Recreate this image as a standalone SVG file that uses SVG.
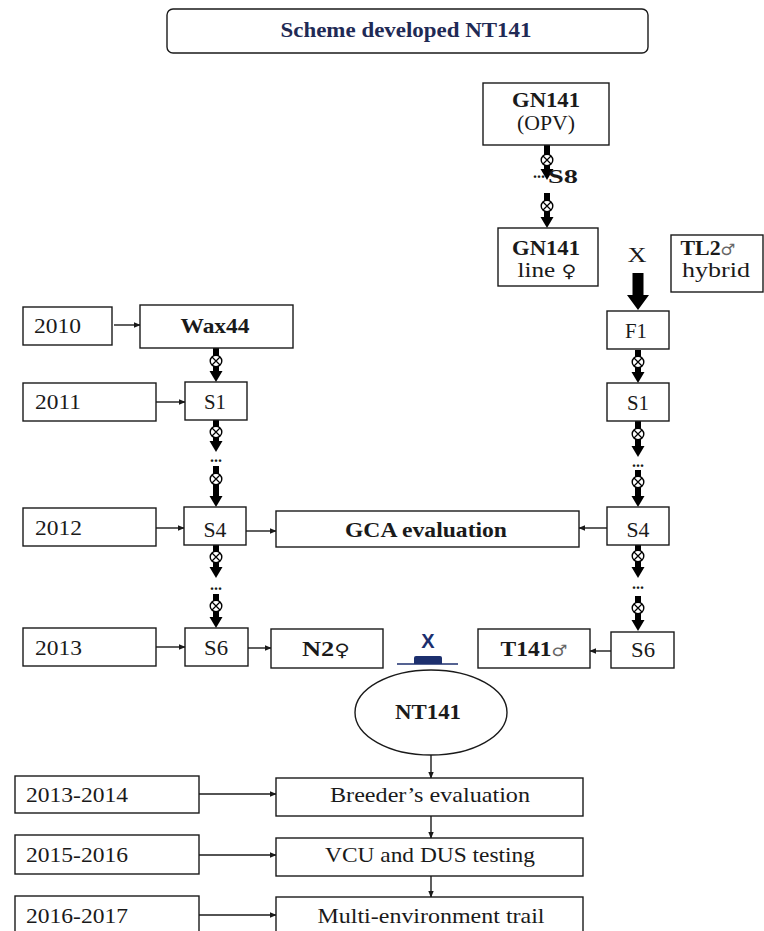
<svg xmlns="http://www.w3.org/2000/svg" xmlns:xlink="http://www.w3.org/1999/xlink" width="764" height="931" viewBox="0 0 764 931">
<style>
  .box{fill:#fff;stroke:#1a1a1a;stroke-width:1.4}
  .t{font-family:"Liberation Serif","DejaVu Serif",serif;font-size:21px;fill:#1a1a1a}
  .b{font-weight:bold}
  .c{text-anchor:middle}
  .thin{stroke:#1a1a1a;stroke-width:1.4;fill:none}
  .shaft{stroke:#000;stroke-width:6;fill:none}
  .sym{font-family:"DejaVu Sans",sans-serif;font-weight:normal}
</style>
<defs>
  <marker id="ah" viewBox="0 0 10 10" refX="9" refY="5" markerWidth="7" markerHeight="7" markerUnits="userSpaceOnUse" orient="auto">
    <path d="M0,1 L10,5 L0,9 Z" fill="#1a1a1a"/>
  </marker>
  <g id="ox">
    <circle cx="0" cy="0" r="5.8" fill="#fff" stroke="#000" stroke-width="1.4"/>
    <path d="M-4,-4 L4,4 M-4,4 L4,-4" stroke="#000" stroke-width="1.2"/>
  </g>
  <path id="hd" d="M-6.5,-11 L6.5,-11 L0,0 Z" fill="#000"/>
</defs>

<rect width="764" height="931" fill="#fff"/>

<g id="title">
  <rect x="167" y="9" width="481" height="44" rx="6" class="box"/>
  <text x="406" y="37" class="t b c" style="fill:#1f2a55;font-size:21px" textLength="251" lengthAdjust="spacingAndGlyphs">Scheme developed NT141</text>
</g>

<g id="connectors">
  <g id="self-gn">
    <line x1="547" y1="145" x2="547" y2="170" class="shaft"/><use xlink:href="#ox" x="547" y="160"/><use xlink:href="#hd" x="547" y="180"/>
    <line x1="547" y1="193" x2="547" y2="218" class="shaft"/><use xlink:href="#ox" x="547" y="206"/><use xlink:href="#hd" x="547" y="228"/>
  </g>
  <g id="self-left">
    <line x1="216" y1="348" x2="216" y2="372" class="shaft"/><use xlink:href="#ox" x="216" y="361"/><use xlink:href="#hd" x="216" y="382"/>
    <line x1="216" y1="420" x2="216" y2="442" class="shaft"/><use xlink:href="#ox" x="216" y="432"/><use xlink:href="#hd" x="216" y="452"/>
    <line x1="216" y1="466" x2="216" y2="497" class="shaft"/><use xlink:href="#ox" x="216" y="479"/><use xlink:href="#hd" x="216" y="507"/>
    <line x1="216" y1="545" x2="216" y2="568" class="shaft"/><use xlink:href="#ox" x="216" y="557"/><use xlink:href="#hd" x="216" y="578"/>
    <line x1="216" y1="594" x2="216" y2="618" class="shaft"/><use xlink:href="#ox" x="216" y="606"/><use xlink:href="#hd" x="216" y="628"/>
  </g>
  <g id="self-right">
    <line x1="638" y1="350" x2="638" y2="373" class="shaft"/><use xlink:href="#ox" x="638" y="362"/><use xlink:href="#hd" x="638" y="383"/>
    <line x1="638" y1="421" x2="638" y2="447" class="shaft"/><use xlink:href="#ox" x="638" y="434"/><use xlink:href="#hd" x="638" y="457"/>
    <line x1="638" y1="470" x2="638" y2="497" class="shaft"/><use xlink:href="#ox" x="638" y="482"/><use xlink:href="#hd" x="638" y="507"/>
    <line x1="638" y1="545" x2="638" y2="568" class="shaft"/><use xlink:href="#ox" x="638" y="556"/><use xlink:href="#hd" x="638" y="578"/>
    <line x1="638" y1="596" x2="638" y2="621" class="shaft"/><use xlink:href="#ox" x="638" y="608"/><use xlink:href="#hd" x="638" y="631"/>
  </g>
  <path d="M632.5,273 L643.5,273 L643.5,295 L649,295 L638,310 L627,295 L632.5,295 Z" fill="#000"/>

  <line x1="114" y1="325" x2="140" y2="325" class="thin" marker-end="url(#ah)"/>
  <line x1="156" y1="402" x2="185" y2="402" class="thin" marker-end="url(#ah)"/>
  <line x1="156" y1="528" x2="184" y2="528" class="thin" marker-end="url(#ah)"/>
  <line x1="156" y1="647" x2="185" y2="647" class="thin" marker-end="url(#ah)"/>
  <line x1="246" y1="531" x2="276" y2="531" class="thin" marker-end="url(#ah)"/>
  <line x1="607" y1="528" x2="579" y2="528" class="thin" marker-end="url(#ah)"/>
  <line x1="248" y1="648" x2="271" y2="648" class="thin" marker-end="url(#ah)"/>
  <line x1="611" y1="651" x2="590" y2="651" class="thin" marker-end="url(#ah)"/>
  <line x1="431" y1="755" x2="431" y2="778" class="thin" marker-end="url(#ah)"/>
  <line x1="199" y1="794" x2="276" y2="794" class="thin" marker-end="url(#ah)"/>
  <line x1="199" y1="855" x2="276" y2="855" class="thin" marker-end="url(#ah)"/>
  <line x1="199" y1="915" x2="276" y2="915" class="thin" marker-end="url(#ah)"/>
  <line x1="431" y1="816" x2="431" y2="838" class="thin" marker-end="url(#ah)"/>
  <line x1="431" y1="876" x2="431" y2="897" class="thin" marker-end="url(#ah)"/>

  <g id="cross-nt">
    <line x1="397" y1="664" x2="458" y2="664" stroke="#1c2f6e" stroke-width="1.6"/>
    <path d="M414,664 L414,658 Q414,656 416,656 L440,656 Q442,656 442,658 L442,664 Z" fill="#1c2f6e"/>
    <text x="428" y="648" style="font-family:'Liberation Sans',Arial,sans-serif;font-weight:bold;font-size:20px;fill:#1c2f6e;text-anchor:middle">X</text>
  </g>
</g>

<g id="labels-self">
  <text x="539" y="178" class="t b c" style="font-size:16px">...</text>
  <text x="548" y="183" class="t b" style="font-size:19px" textLength="30" lengthAdjust="spacingAndGlyphs">S8</text>
  <text x="216" y="462" class="t b c" style="font-size:16px">...</text>
  <text x="216" y="590" class="t b c" style="font-size:16px">...</text>
  <text x="638" y="467" class="t b c" style="font-size:16px">...</text>
  <text x="638" y="589" class="t b c" style="font-size:16px">...</text>
  <text x="637" y="262" class="t c" textLength="19" lengthAdjust="spacingAndGlyphs">X</text>
</g>

<g id="gn141-opv">
  <rect x="483" y="83" width="126" height="62" class="box"/>
  <text x="546" y="107" class="t b c" textLength="68" lengthAdjust="spacingAndGlyphs">GN141</text>
  <text x="546" y="130" class="t c" textLength="58" lengthAdjust="spacingAndGlyphs">(OPV)</text>
</g>
<g id="gn141-line">
  <rect x="498" y="228" width="100" height="58" class="box"/>
  <text x="546" y="255" class="t b c" textLength="68" lengthAdjust="spacingAndGlyphs">GN141</text>
  <text x="547" y="277" class="t c" textLength="59" lengthAdjust="spacingAndGlyphs">line <tspan class="sym" style="font-size:17px">♀</tspan></text>
</g>
<g id="tl2">
  <rect x="671" y="235" width="92" height="57" class="box"/>
  <text x="708" y="255" class="t c" textLength="55" lengthAdjust="spacingAndGlyphs"><tspan class="b">TL2</tspan><tspan class="sym" style="font-size:16px;fill:#666">♂</tspan></text>
  <text x="716" y="277" class="t c" textLength="68" lengthAdjust="spacingAndGlyphs">hybrid</text>
</g>
<g id="f1">
  <rect x="607" y="311" width="62" height="38" class="box"/>
  <text x="636" y="338" class="t c" textLength="22" lengthAdjust="spacingAndGlyphs">F1</text>
</g>

<g id="y2010">
  <rect x="23" y="307" width="89" height="38" class="box"/>
  <text x="34" y="333" class="t" textLength="47" lengthAdjust="spacingAndGlyphs">2010</text>
</g>
<g id="wax44">
  <rect x="140" y="305" width="153" height="43" class="box"/>
  <text x="215" y="333" class="t b c" textLength="69" lengthAdjust="spacingAndGlyphs">Wax44</text>
</g>
<g id="y2011">
  <rect x="23" y="383" width="133" height="38" class="box"/>
  <text x="35" y="409" class="t" textLength="46" lengthAdjust="spacingAndGlyphs">2011</text>
</g>
<g id="s1-left">
  <rect x="185" y="382" width="62" height="38" class="box"/>
  <text x="215" y="409" class="t c" textLength="22" lengthAdjust="spacingAndGlyphs">S1</text>
</g>
<g id="s1-right">
  <rect x="607" y="383" width="62" height="38" class="box"/>
  <text x="638" y="410" class="t c" textLength="22" lengthAdjust="spacingAndGlyphs">S1</text>
</g>

<g id="y2012">
  <rect x="23" y="508" width="133" height="38" class="box"/>
  <text x="35" y="535" class="t" textLength="47" lengthAdjust="spacingAndGlyphs">2012</text>
</g>
<g id="s4-left">
  <rect x="184" y="507" width="62" height="38" class="box"/>
  <text x="215" y="537" class="t c" textLength="23" lengthAdjust="spacingAndGlyphs">S4</text>
</g>
<g id="gca">
  <rect x="276" y="511" width="303" height="36" class="box"/>
  <text x="426" y="537" class="t b c" textLength="162" lengthAdjust="spacingAndGlyphs">GCA evaluation</text>
</g>
<g id="s4-right">
  <rect x="607" y="507" width="62" height="38" class="box"/>
  <text x="638" y="537" class="t c" textLength="23" lengthAdjust="spacingAndGlyphs">S4</text>
</g>

<g id="y2013">
  <rect x="23" y="628" width="133" height="38" class="box"/>
  <text x="35" y="655" class="t" textLength="47" lengthAdjust="spacingAndGlyphs">2013</text>
</g>
<g id="s6-left">
  <rect x="185" y="628" width="63" height="38" class="box"/>
  <text x="216" y="655" class="t c" textLength="24" lengthAdjust="spacingAndGlyphs">S6</text>
</g>
<g id="n2">
  <rect x="271" y="629" width="112" height="39" class="box"/>
  <text x="326" y="656" class="t c" textLength="48" lengthAdjust="spacingAndGlyphs"><tspan class="b">N2</tspan><tspan class="sym" style="font-size:17px">♀</tspan></text>
</g>
<g id="t141">
  <rect x="478" y="629" width="112" height="39" class="box"/>
  <text x="534" y="656" class="t c" textLength="67" lengthAdjust="spacingAndGlyphs"><tspan class="b">T141</tspan><tspan class="sym" style="font-size:16px;fill:#666">♂</tspan></text>
</g>
<g id="s6-right">
  <rect x="611" y="632" width="63" height="36" class="box"/>
  <text x="643" y="657" class="t c" textLength="24" lengthAdjust="spacingAndGlyphs">S6</text>
</g>

<g id="nt141">
  <ellipse cx="431" cy="712.5" rx="76" ry="42.5" class="box"/>
  <text x="428" y="719" class="t b c" textLength="66" lengthAdjust="spacingAndGlyphs">NT141</text>
</g>

<g id="y2013-2014">
  <rect x="15" y="776" width="184" height="37" class="box"/>
  <text x="26" y="802" class="t" textLength="102" lengthAdjust="spacingAndGlyphs">2013-2014</text>
</g>
<g id="breeder">
  <rect x="276" y="778" width="307" height="38" class="box"/>
  <text x="430" y="802" class="t c" textLength="200" lengthAdjust="spacingAndGlyphs">Breeder’s evaluation</text>
</g>
<g id="y2015-2016">
  <rect x="15" y="835" width="184" height="39" class="box"/>
  <text x="26" y="862" class="t" textLength="102" lengthAdjust="spacingAndGlyphs">2015-2016</text>
</g>
<g id="vcu">
  <rect x="276" y="838" width="307" height="38" class="box"/>
  <text x="430" y="862" class="t c" textLength="210" lengthAdjust="spacingAndGlyphs">VCU and DUS testing</text>
</g>
<g id="y2016-2017">
  <rect x="15" y="896" width="184" height="40" class="box"/>
  <text x="26" y="923" class="t" textLength="102" lengthAdjust="spacingAndGlyphs">2016-2017</text>
</g>
<g id="multi">
  <rect x="276" y="897" width="307" height="40" class="box"/>
  <text x="431" y="923" class="t c" textLength="227" lengthAdjust="spacingAndGlyphs">Multi-environment trail</text>
</g>
</svg>
